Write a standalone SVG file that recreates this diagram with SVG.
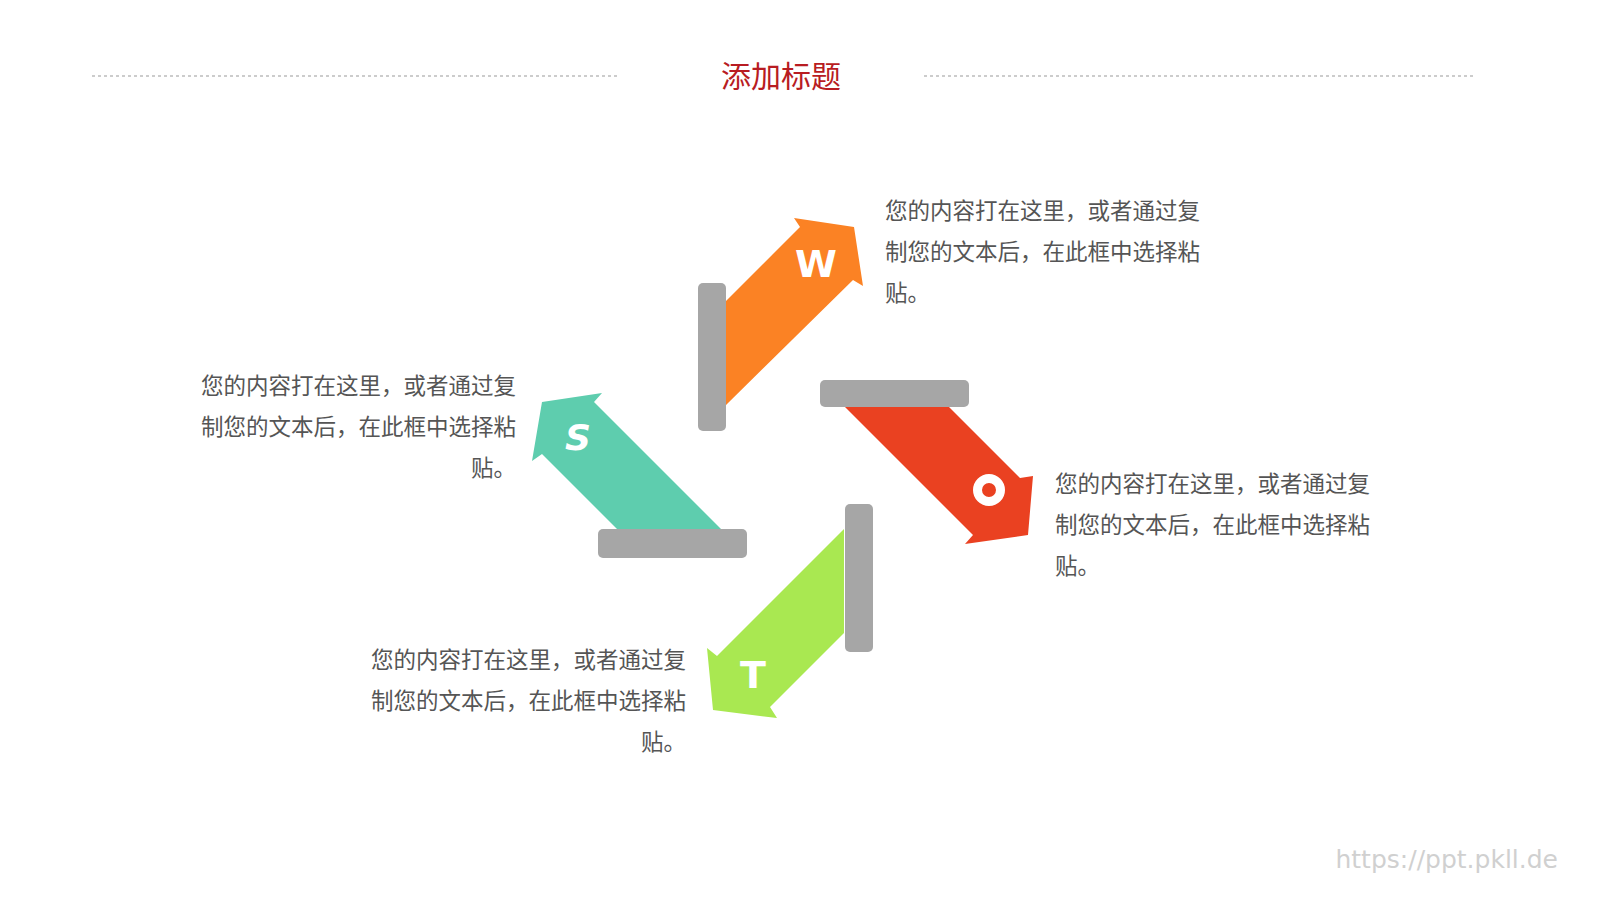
<svg xmlns="http://www.w3.org/2000/svg" width="1600" height="900" viewBox="0 0 1600 900">
<style>
.t{font-family:"Noto Sans CJK SC","Noto Sans",sans-serif;font-size:22.5px;fill:#555}
.bar{fill:#a6a6a6}
.l{font-family:"DejaVu Sans","Liberation Sans",sans-serif;font-weight:bold;fill:#fff;text-anchor:middle}
</style>
<rect width="1600" height="900" fill="#fff"/>
<g id="title">
<line x1="92" y1="76" x2="617" y2="76" stroke="#999" stroke-dasharray="3,3"/>
<line x1="924" y1="76" x2="1473" y2="76" stroke="#999" stroke-dasharray="3,3"/>
<text x="781" y="87" text-anchor="middle" style="font-family:'Noto Sans CJK SC',sans-serif;font-size:30px;fill:#b81c22">添加标题</text>
</g>
<g id="W">
<polygon points="726,301 800,227 794,218 854,227 863,286 853,280 726,405" fill="#fb8224"/>
<rect class="bar" x="698" y="283" width="28" height="148" rx="5"/>
<text class="l" x="816" y="277" font-size="38">W</text>
</g>
<g id="O">
<polygon points="845,407 949,407 1020,478 1033,476 1028,535 965,544 973,535" fill="#ea4121"/>
<rect class="bar" x="820" y="380" width="149" height="27" rx="5"/>
<circle cx="989" cy="490" r="11.5" fill="none" stroke="#fff" stroke-width="9"/>
</g>
<g id="T">
<polygon points="844,529 717,656 707,648 713,710 777,718 770,707 844,633" fill="#a9e851"/>
<rect class="bar" x="845" y="504" width="28" height="148" rx="5"/>
<text class="l" x="753" y="688" font-size="38">T</text>
</g>
<g id="S">
<polygon points="617,529 542,454 532,461 542,402 602,393 594,402 721,529" fill="#5ecdae"/>
<rect class="bar" x="598" y="529" width="149" height="29" rx="5"/>
<text class="l" x="578" y="450" font-size="36" font-style="italic">S</text>
</g>
<g id="texts">
<text class="t" x="885" y="219">您的内容打在这里，或者通过复</text>
<text class="t" x="885" y="260">制您的文本后，在此框中选择粘</text>
<text class="t" x="885" y="301">贴。</text>
<text class="t" x="516" y="394" text-anchor="end">您的内容打在这里，或者通过复</text>
<text class="t" x="516" y="435" text-anchor="end">制您的文本后，在此框中选择粘</text>
<text class="t" x="516" y="476" text-anchor="end">贴。</text>
<text class="t" x="1055" y="492">您的内容打在这里，或者通过复</text>
<text class="t" x="1055" y="533">制您的文本后，在此框中选择粘</text>
<text class="t" x="1055" y="574">贴。</text>
<text class="t" x="686" y="668" text-anchor="end">您的内容打在这里，或者通过复</text>
<text class="t" x="686" y="709" text-anchor="end">制您的文本后，在此框中选择粘</text>
<text class="t" x="686" y="750" text-anchor="end">贴。</text>
</g>
<text x="1558" y="868" text-anchor="end" style="font-family:'DejaVu Sans',sans-serif;font-size:25px;fill:#d0d0d0">https://ppt.pkll.de</text>
</svg>
